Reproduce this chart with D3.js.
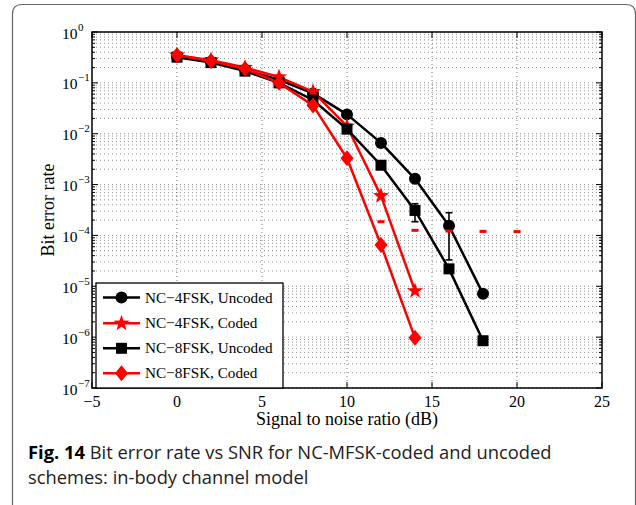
<!DOCTYPE html>
<html><head><meta charset="utf-8">
<script src="https://cdn.jsdelivr.net/npm/d3@7/dist/d3.min.js"></script>
<style>body{margin:0;background:#fff}svg{display:block}</style>
</head><body>
<svg id="c" width="636" height="505"></svg>
<script>
// ---- data ----
const snrUncoded = [0, 2, 4, 6, 8, 10, 12, 14, 16, 18];
const snrCoded = [0, 2, 4, 6, 8, 10, 12, 14];
const berNC4Uncoded = [0.33, 0.26, 0.18, 0.115, 0.062, 0.024, 0.0066, 0.0013, 1.55e-4, 7.1e-6];
const berNC4Coded = [0.35, 0.28, 0.2, 0.13, 0.067, 0.014, 6e-4, 8.1e-6];
const berNC8Uncoded = [0.32, 0.25, 0.17, 0.1, 0.046, 0.0123, 0.0024, 3.1e-4, 2.2e-5, 8.5e-7];
const berNC8Coded = [0.35, 0.27, 0.19, 0.1, 0.036, 0.0033, 6.5e-5, 9.7e-7];
const errBarSnr = [14, 16];
const errBarLow = [1.86e-4, 3.3e-5];
const errBarHigh = [4.2e-4, 2.8e-4];
const redDashSnr = [12, 14, 16, 18, 20];
const redDashBer = [1.86e-4, 1.26e-4, 1.22e-4, 1.2e-4, 1.19e-4];
const xTicks = [-5, 0, 5, 10, 15, 20, 25];
const yExponents = [0, -1, -2, -3, -4, -5, -6, -7];
const legendLabels = ["NC\u22124FSK, Uncoded", "NC\u22124FSK, Coded", "NC\u22128FSK, Uncoded", "NC\u22128FSK, Coded"];
const xLabel = "Signal to noise ratio (dB)";
const yLabel = "Bit error rate";
const captionBold = "Fig. 14";
const captionLine1 = " Bit error rate vs SNR for NC-MFSK-coded and uncoded";
const captionLine2 = "schemes: in-body channel model";

// ---- layout ----
const svg = d3.select("#c");
const L = 92, R = 602, T = 32, B = 388;
const x = d3.scaleLinear().domain([-5, 25]).range([L, R]);
const y = d3.scaleLog().domain([1e-7, 1]).range([B, T]);
const serif = "'Liberation Serif','Times New Roman',serif";

// frame
svg.append("path")
  .attr("d", `M12.5,520 L12.5,14 Q12.5,4.5 22,4.5 L626,4.5 Q635.5,4.5 635.5,14 L635.5,520`)
  .attr("fill", "none").attr("stroke", "#666").attr("stroke-width", 1.2);

// grid
const g = svg.append("g");
const minorVals = [];
yExponents.forEach(e => { if (e < 0) for (let k = 1; k <= 9; k++) minorVals.push(k * Math.pow(10, e)); });
minorVals.push(1);
g.selectAll(".hg").data(minorVals).join("line")
  .attr("x1", L).attr("x2", R).attr("y1", d => y(d)).attr("y2", d => y(d))
  .attr("stroke", "#777").attr("stroke-width", 0.8).attr("stroke-dasharray", "1,3");
g.selectAll(".vg").data(xTicks.slice(1, -1)).join("line")
  .attr("x1", d => x(d)).attr("x2", d => x(d)).attr("y1", T).attr("y2", B)
  .attr("stroke", "#555").attr("stroke-width", 0.8).attr("stroke-dasharray", "1,3");

// ticks
const tk = svg.append("g").attr("stroke", "#000").attr("stroke-width", 1);
minorVals.forEach(v => {
  const major = Math.abs(Math.log10(v) - Math.round(Math.log10(v))) < 1e-9;
  const len = major ? 6 : 3;
  tk.append("line").attr("x1", L).attr("x2", L + len).attr("y1", y(v)).attr("y2", y(v));
  tk.append("line").attr("x1", R).attr("x2", R - len).attr("y1", y(v)).attr("y2", y(v));
});
xTicks.forEach(v => {
  tk.append("line").attr("x1", x(v)).attr("x2", x(v)).attr("y1", B).attr("y2", B - 6);
  tk.append("line").attr("x1", x(v)).attr("x2", x(v)).attr("y1", T).attr("y2", T + 6);
});

// series
const star = (r) => {
  const pts = [];
  for (let i = 0; i < 10; i++) {
    const a = -Math.PI / 2 + i * Math.PI / 5;
    const rr = i % 2 ? r * 0.4 : r;
    pts.push([rr * Math.cos(a), rr * Math.sin(a)]);
  }
  return "M" + pts.map(p => p.join(",")).join("L") + "Z";
};
const markerPath = {
  circle: () => d3.symbol(d3.symbolCircle, Math.PI * 36)(),
  star: () => star(8.5),
  square: () => "M-5.5,-5.5L5.5,-5.5L5.5,5.5L-5.5,5.5Z",
  diamond: () => "M0,-8L6.5,0L0,8L-6.5,0Z"
};
const series = [
  {xs: snrUncoded, ys: berNC4Uncoded, color: "#000", m: "circle"},
  {xs: snrCoded, ys: berNC4Coded, color: "#f00", m: "star"},
  {xs: snrUncoded, ys: berNC8Uncoded, color: "#000", m: "square"},
  {xs: snrCoded, ys: berNC8Coded, color: "#f00", m: "diamond"}
];
const line = d3.line().x(d => x(d[0])).y(d => y(d[1]));
series.forEach(s => {
  const pts = s.xs.map((v, i) => [v, s.ys[i]]);
  const sg = svg.append("g");
  sg.append("path").attr("d", line(pts)).attr("fill", "none")
    .attr("stroke", s.color).attr("stroke-width", 2.5).attr("stroke-linejoin", "round");
  sg.selectAll("path.m").data(pts).join("path").attr("class", "m")
    .attr("d", markerPath[s.m]()).attr("transform", d => `translate(${x(d[0])},${y(d[1])})`)
    .attr("fill", s.color);
});

// error bars
const eb = svg.append("g").attr("stroke", "#000").attr("stroke-width", 1.6);
errBarSnr.forEach((v, i) => {
  const cx = x(v), y1 = y(errBarHigh[i]), y2 = y(errBarLow[i]);
  eb.append("line").attr("x1", cx).attr("x2", cx).attr("y1", y1).attr("y2", y2);
  eb.append("line").attr("x1", cx - 3.5).attr("x2", cx + 3.5).attr("y1", y1).attr("y2", y1);
  eb.append("line").attr("x1", cx - 3.5).attr("x2", cx + 3.5).attr("y1", y2).attr("y2", y2);
});
svg.append("g").selectAll("line").data(redDashSnr.map((v, i) => [v, redDashBer[i]])).join("line")
  .attr("x1", d => x(d[0]) - 3.5).attr("x2", d => x(d[0]) + 3.5)
  .attr("y1", d => y(d[1])).attr("y2", d => y(d[1]))
  .attr("stroke", "#f00").attr("stroke-width", 3);

// axes box
svg.append("rect").attr("x", L).attr("y", T).attr("width", R - L).attr("height", B - T)
  .attr("fill", "none").attr("stroke", "#000").attr("stroke-width", 1.5);

// tick labels
xTicks.forEach(v => {
  svg.append("text").attr("x", x(v)).attr("y", 407).attr("text-anchor", "middle")
    .attr("font-family", serif).attr("font-size", 16)
    .text(v < 0 ? "\u2212" + Math.abs(v) : String(v));
});
yExponents.forEach(e => {
  const yy = y(Math.pow(10, e));
  svg.append("text").attr("x", 77.5).attr("y", yy + 6.5).attr("text-anchor", "end")
    .attr("font-family", serif).attr("font-size", 15.5).text("10");
  svg.append("text").attr("x", 78).attr("y", yy - 1.5).attr("text-anchor", "start")
    .attr("font-family", serif).attr("font-size", 11)
    .text(e < 0 ? "\u2212" + Math.abs(e) : String(e));
});

// axis titles
svg.append("text").attr("x", (L + R) / 2).attr("y", 425).attr("text-anchor", "middle")
  .attr("font-family", serif).attr("font-size", 18).text(xLabel);
svg.append("text").attr("transform", `translate(53.5,${(T + B) / 2}) rotate(-90)`)
  .attr("text-anchor", "middle").attr("font-family", serif).attr("font-size", 18).text(yLabel);

// legend
const lg = svg.append("g");
lg.append("rect").attr("x", 96).attr("y", 283).attr("width", 187).attr("height", B - 283)
  .attr("fill", "#fff").attr("stroke", "#000").attr("stroke-width", 1.3);
const rowY = [297.5, 323.3, 348.3, 373.3];
series.forEach((s, i) => {
  lg.append("line").attr("x1", 103).attr("x2", 140).attr("y1", rowY[i]).attr("y2", rowY[i])
    .attr("stroke", s.color).attr("stroke-width", 2.5);
  lg.append("path").attr("d", markerPath[s.m]()).attr("transform", `translate(121.5,${rowY[i]})`)
    .attr("fill", s.color);
  lg.append("text").attr("x", 145).attr("y", rowY[i] + 5).attr("font-family", serif)
    .attr("font-size", 15.2).text(legendLabels[i]);
});

// caption (condensed horizontally to mimic a narrower humanist face)
const sans = "'Open Sans','Noto Sans',sans-serif";
const capFs = 18.5;
const c1 = svg.append("text").attr("x", 0).attr("y", 0).attr("font-family", sans).attr("font-size", capFs).attr("fill", "#222");
c1.append("tspan").attr("font-weight", "bold").attr("fill", "#000").text(captionBold);
c1.append("tspan").text(captionLine1);
const c2 = svg.append("text").attr("x", 0).attr("y", 0).attr("font-family", sans).attr("font-size", capFs).attr("fill", "#222").text(captionLine2);
const sx = 524 / c1.node().getComputedTextLength();
c1.attr("transform", `translate(28,459) scale(${sx},1)`);
c2.attr("transform", `translate(28,484) scale(${sx},1)`);
</script>
</body></html>
